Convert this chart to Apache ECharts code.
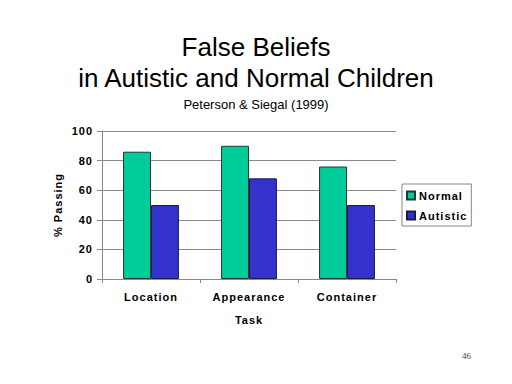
<!DOCTYPE html>
<html><head><meta charset="utf-8">
<script src="https://cdn.jsdelivr.net/npm/echarts@6/dist/echarts.min.js"></script>
<style>
html,body{margin:0;padding:0;background:#fff}
#c{width:512px;height:384px}
#c text[style*="bold"], #c text[font-weight="bold"]{letter-spacing:1px}
</style>
</head><body><div id="c"></div>
<script>
var categories = ['Location', 'Appearance', 'Container'];
var normalValues = [86, 90, 76];
var autisticValues = [50, 68, 50];
var yTicks = [0, 20, 40, 60, 80, 100];

var chart = echarts.init(document.getElementById('c'), null, {renderer: 'svg'});
var font = 'Liberation Sans, Arial, sans-serif';
chart.setOption({
  backgroundColor: '#fff',
  animation: false,
  title: [
    {text: 'False Beliefs', left: 'center', top: 29, textStyle: {fontFamily: font, fontSize: 26, fontWeight: 'normal', color: '#000'}},
    {text: 'in Autistic and Normal Children', left: 'center', top: 60, textStyle: {fontFamily: font, fontSize: 26, fontWeight: 'normal', color: '#000'}},
    {text: 'Peterson & Siegal (1999)', left: 'center', top: 93, textStyle: {fontFamily: font, fontSize: 13, fontWeight: 'normal', color: '#000'}},
    {text: '46', left: 457, top: 346, textStyle: {fontFamily: 'Liberation Serif, serif', fontSize: 9, fontWeight: 'normal', color: '#444'}}
  ],
  legend: {
    orient: 'vertical', left: 402, top: 184,
    data: ['Normal', 'Autistic'],
    itemWidth: 8, itemHeight: 8, itemGap: 9,
    padding: [6, 12, 5, 4],
    borderColor: '#888', borderWidth: 1,
    textStyle: {fontFamily: font, fontSize: 11, fontWeight: 'bold', color: '#000', padding: [0, 0, 0, -1]},
    icon: 'rect'
  },
  grid: {left: 102, right: 116, top: 131, bottom: 105},
  xAxis: {
    type: 'category', data: categories,
    name: 'Task', nameLocation: 'middle', nameGap: 35,
    nameTextStyle: {fontFamily: font, fontSize: 11, fontWeight: 'bold', color: '#000'},
    axisLine: {lineStyle: {color: '#888'}},
    axisTick: {show: true, length: 4, lineStyle: {color: '#888'}},
    axisLabel: {fontFamily: font, fontSize: 11, fontWeight: 'bold', color: '#000', margin: 12}
  },
  yAxis: {
    type: 'value', min: 0, max: 100, interval: 20,
    name: '% Passing', nameLocation: 'middle', nameGap: 39, nameRotate: 90,
    nameTextStyle: {fontFamily: font, fontSize: 11, fontWeight: 'bold', color: '#000'},
    axisLine: {show: true, lineStyle: {color: '#888'}},
    axisTick: {show: true, length: 5, lineStyle: {color: '#888'}},
    axisLabel: {fontFamily: font, fontSize: 11, fontWeight: 'bold', color: '#000', margin: 9,
      formatter: function (v) { return yTicks.indexOf(v) >= 0 ? String(v) : ''; }},
    splitLine: {lineStyle: {color: '#888'}}
  },
  series: [
    {name: 'Normal', type: 'bar', data: normalValues, barGap: '0%', barCategoryGap: '43%',
     itemStyle: {color: '#00CC99', borderColor: '#1a3a3a', borderWidth: 1}},
    {name: 'Autistic', type: 'bar', data: autisticValues,
     itemStyle: {color: '#3333CC', borderColor: '#1a1a4a', borderWidth: 1}}
  ]
});
</script></body></html>
